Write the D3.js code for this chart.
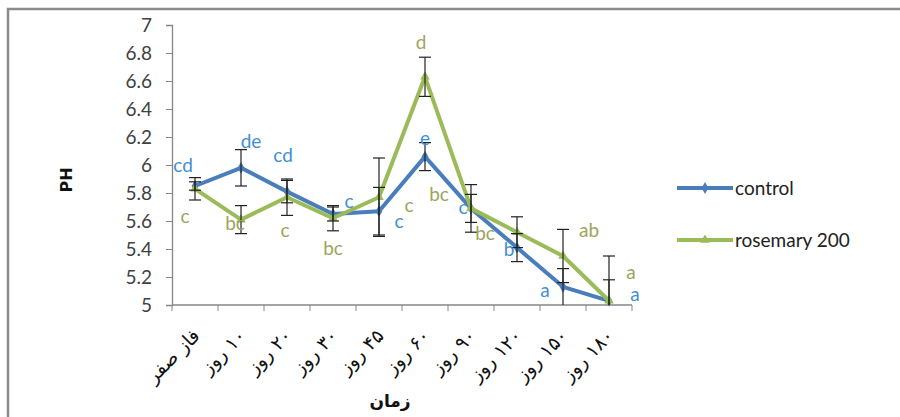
<!DOCTYPE html>
<html>
<head>
<meta charset="utf-8">
<script src="https://cdn.jsdelivr.net/npm/d3@7"></script>
<style>
  body { margin: 0; background: #fff; }
  svg { display: block; }
</style>
</head>
<body>
<svg id="chart"></svg>
<script>
// data
const categories = ['فاز صفر', '۱۰ روز', '۲۰ روز', '۳۰ روز', '۴۵ روز', '۶۰ روز', '۹۰ روز', '۱۲۰ روز', '۱۵۰ روز', '۱۸۰ روز']
const controlValues = [5.85, 5.98, 5.81, 5.65, 5.67, 6.06, 5.69, 5.41, 5.13, 5.03]
const controlErr    = [0.03, 0.13, 0.08, 0.05, 0.17, 0.10, 0.10, 0.10, 0.13, 0.15]
const controlLetters = ['cd', 'de', 'cd', 'c', 'c', 'e', 'c', 'b', 'a', 'a']
const rosemaryValues = [5.83, 5.61, 5.77, 5.62, 5.77, 6.63, 5.69, 5.52, 5.35, 5.03]
const rosemaryErr    = [0.08, 0.10, 0.13, 0.09, 0.28, 0.14, 0.17, 0.11, 0.19, 0.32]
const rosemaryLetters = ['c', 'bc', 'c', 'bc', 'c', 'd', 'bc', 'bc', 'ab', 'a']
const yTicks = [5, 5.2, 5.4, 5.6, 5.8, 6, 6.2, 6.4, 6.6, 6.8, 7]

// where the letters sit relative to each point (dx, dy)
const controlLabelPos = [[-12, -14], [10, -20], [-4, -30], [16, -6], [20, 17], [0, -12], [-8, 6], [-8, 8], [-18, 10], [26, 0]]
const rosemaryLabelPos = [[-10, 34], [-6, 10], [-2, 40], [0, 37], [30, 15], [-4, -28], [-32, -7], [-32, 8], [26, -19], [22, -22]]

const
    svgWidth = 900,
    svgHeight = 417,
    blue = '#4a7ebb',
    green = '#9bbb59',
    blueText = '#3f8fd2',
    greenText = '#9ea45c'

let svg = d3.select('#chart')
    .attr('width', svgWidth)
    .attr('height', svgHeight)

// chart frame
svg.append('rect')
    .attr('x', 8).attr('y', 9)
    .attr('width', 900).attr('height', 420)
    .attr('fill', 'none')
    .attr('stroke', '#8c8c8c')
    .attr('stroke-width', 2.5)

let x = d3.scaleBand()
    .domain(categories)
    .range([172, 632])

let y = d3.scaleLinear()
    .domain([5, 7])
    .range([305, 25])

// y axis
let yAxis = svg.append('g')
    .attr('transform', 'translate(172,0)')
    .call(d3.axisLeft(y).tickValues(yTicks).tickSize(6).tickPadding(14).tickFormat(d => d))
yAxis.select('.domain').attr('stroke', '#868686').attr('stroke-width', 1.3)
yAxis.selectAll('line').attr('stroke', '#868686')
yAxis.selectAll('text')
    .attr('font-family', 'Lato, "Open Sans", sans-serif')
    .attr('font-size', 19)
    .attr('fill', '#404040')

// x axis: ticks on band edges
let xAxis = svg.append('g')
    .attr('transform', 'translate(0,305)')
xAxis.append('line')
    .attr('x1', 172).attr('x2', 632)
    .attr('stroke', '#868686').attr('stroke-width', 1.3)
xAxis.selectAll('.tk')
    .data(categories.map(c => x(c)).concat([x.range()[1]]))
    .enter()
    .append('line')
        .attr('x1', d => d).attr('x2', d => d)
        .attr('y1', 0).attr('y2', 6)
        .attr('stroke', '#868686')

svg.selectAll('.xlab')
    .data(categories)
    .enter()
    .append('text')
    .text(d => d)
        .attr('transform', d => `translate(${x(d) + x.bandwidth() / 2 + 6},${337}) rotate(-45)`)
        .attr('text-anchor', 'start')
        .attr('direction', 'rtl')
        .attr('font-family', '"DejaVu Sans", sans-serif')
        .attr('font-size', 19)
        .attr('fill', '#111')

// axis titles
svg.append('text')
    .text('PH')
    .attr('transform', 'translate(72,180) rotate(-90)')
    .attr('text-anchor', 'middle')
    .attr('font-family', '"DejaVu Sans", sans-serif')
    .attr('font-weight', 'bold')
    .attr('font-size', 16)
    .attr('fill', '#111')

svg.append('text')
    .text('زمان')
    .attr('x', 390).attr('y', 407)
    .attr('text-anchor', 'middle')
    .attr('direction', 'rtl')
    .attr('font-family', '"DejaVu Sans", sans-serif')
    .attr('font-weight', 'bold')
    .attr('font-size', 17)
    .attr('fill', '#111')

const cx = (d, i) => x(categories[i]) + x.bandwidth() / 2

function drawSeries(values, color, marker) {
    let line = d3.line()
        .x((d, i) => cx(d, i))
        .y(d => y(d))

    svg.append('path')
        .datum(values)
        .attr('d', line)
        .attr('fill', 'none')
        .attr('stroke', color)
        .attr('stroke-width', 4)
        .attr('stroke-linejoin', 'round')

    svg.append('g').selectAll('path')
        .data(values)
        .enter()
        .append('path')
            .attr('d', d3.symbol().type(marker).size(40))
            .attr('transform', (d, i) => `translate(${cx(d, i)},${y(d)})`)
            .attr('fill', color)
}

function drawErrors(values, errs) {
    let g = svg.append('g').attr('stroke', '#222').attr('stroke-width', 1.2)
    values.forEach((v, i) => {
        let hi = y(Math.min(7, v + errs[i]))
        let lo = y(Math.max(5, v - errs[i]))
        let px = cx(v, i)
        g.append('line').attr('x1', px).attr('x2', px).attr('y1', hi).attr('y2', lo)
        g.append('line').attr('x1', px - 6).attr('x2', px + 6).attr('y1', hi).attr('y2', hi)
        if (v - errs[i] > 5) g.append('line').attr('x1', px - 6).attr('x2', px + 6).attr('y1', lo).attr('y2', lo)
    })
}

function drawLetters(values, letters, pos, color) {
    svg.append('g').selectAll('text')
        .data(values)
        .enter()
        .append('text')
        .text((d, i) => letters[i])
            .attr('x', (d, i) => cx(d, i) + pos[i][0])
            .attr('y', (d, i) => y(d) + pos[i][1])
            .attr('text-anchor', 'middle')
            .attr('font-family', 'Lato, "Open Sans", sans-serif')
            .attr('font-size', 19)
            .attr('fill', color)
}

drawSeries(controlValues, blue, d3.symbolDiamond)
drawSeries(rosemaryValues, green, d3.symbolTriangle)
drawErrors(controlValues, controlErr)
drawErrors(rosemaryValues, rosemaryErr)
drawLetters(controlValues, controlLetters, controlLabelPos, blueText)
drawLetters(rosemaryValues, rosemaryLetters, rosemaryLabelPos, greenText)

// legend
const legendItems = [['control', blue, d3.symbolDiamond], ['rosemary 200', green, d3.symbolTriangle]]
let legend = svg.selectAll('.leg')
    .data(legendItems)
    .enter()
    .append('g')
        .attr('transform', (d, i) => `translate(677,${188 + i * 52})`)
legend.append('line')
    .attr('x1', 0).attr('x2', 56)
    .attr('stroke', d => d[1])
    .attr('stroke-width', 4)
legend.append('path')
    .attr('d', d => d3.symbol().type(d[2]).size(40)())
    .attr('transform', 'translate(28,0)')
    .attr('fill', d => d[1])
legend.append('text')
    .text(d => d[0])
    .attr('x', 58).attr('y', 7)
    .attr('font-family', 'Lato, "Open Sans", sans-serif')
    .attr('font-size', 19)
    .attr('fill', '#222')
</script>
</body>
</html>
